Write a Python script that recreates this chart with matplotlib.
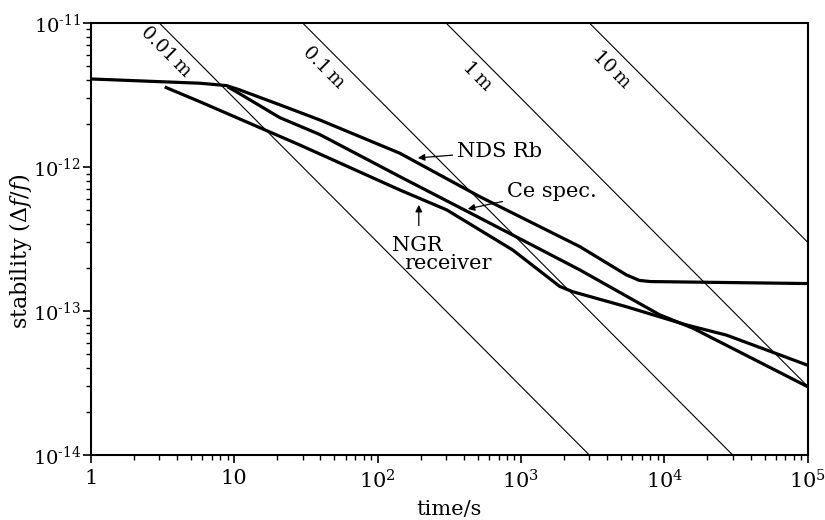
import matplotlib.pyplot as plt
import numpy as np
from matplotlib.ticker import NullFormatter

plt.rcParams['font.family'] = 'DejaVu Serif'
plt.rcParams['mathtext.fontset'] = 'dejavuserif'

# distance lines: stability = k * d / t
distances = [0.01, 0.1, 1, 10]
distance_labels = ['0.01\u2009m', '0.1\u2009m', '1\u2009m', '10\u2009m']
label_t = [3.33, 42.2, 500, 4300]
label_y = [6.29e-12, 4.87e-12, 4.28e-12, 4.72e-12]
k_per_metre = 3.0e-9

nds_t = [1, 5.8, 8.84, 10.9, 20.8, 39.5, 143, 516, 2570, 5440, 6700, 8000, 1e5]
nds_y = [4.08e-12, 3.81e-12, 3.67e-12, 3.43e-12, 2.70e-12, 2.12e-12, 1.245e-12,
         6.22e-13, 2.80e-13, 1.78e-13, 1.63e-13, 1.60e-13, 1.55e-13]

ce_t = [9.0, 10.5, 20.8, 39.5, 143, 516, 2570, 9290, 15800, 1e5]
ce_y = [3.6e-12, 3.3e-12, 2.2e-12, 1.68e-12, 8.57e-13, 4.43e-13, 1.93e-13,
        9.4e-14, 7.6e-14, 2.98e-14]

ngr_t = [3.28, 5.75, 28.7, 143, 304, 877, 1866, 2300, 5440, 14260, 27100, 1e5]
ngr_y = [3.59e-12, 2.84e-12, 1.42e-12, 6.92e-13, 5.03e-13, 2.65e-13, 1.48e-13,
         1.36e-13, 1.07e-13, 8.0e-14, 6.8e-14, 4.2e-14]

xticks = [1, 10, 1e2, 1e3, 1e4, 1e5]
xtick_labels = ['1', '10', '$10^2$', '$10^3$', '$10^4$', '$10^5$']
yticks = [1e-14, 1e-13, 1e-12, 1e-11]
ytick_labels = [r'$10^{\text{-}14}$', r'$10^{\text{-}13}$', r'$10^{\text{-}12}$',
                r'$10^{\text{-}11}$']

fig = plt.figure(figsize=(8.25, 5.2), dpi=100)
ax = fig.add_axes([0.110, 0.125, 0.869, 0.831])
ax.set_xscale('log')
ax.set_yscale('log')

t = np.array([1.0, 1e5])
for d, lab, lt, ly in zip(distances, distance_labels, label_t, label_y):
    ax.plot(t, k_per_metre * d / t, color='black', lw=0.8)
    ax.text(lt, ly, lab, rotation=-45, rotation_mode='anchor', ha='center',
            va='center', fontsize=13.5)

for tt, yy in [(nds_t, nds_y), (ce_t, ce_y), (ngr_t, ngr_y)]:
    ax.plot(tt, yy, color='black', lw=2.3, solid_joinstyle='round',
            solid_capstyle='butt')

arrow = dict(arrowstyle='-|>', color='black', lw=0.9, shrinkA=1, shrinkB=0,
             mutation_scale=10)
ax.annotate('NDS Rb', xy=(191, 1.155e-12), xytext=(357, 1.28e-12),
            ha='left', va='center', fontsize=15, arrowprops=arrow)
ax.annotate('Ce spec.', xy=(426, 5.11e-13), xytext=(796, 6.8e-13),
            ha='left', va='center', fontsize=15, arrowprops=arrow)
ax.annotate('', xy=(194, 5.45e-13), xytext=(194, 3.83e-13), arrowprops=arrow)
ax.text(190.7, 2.87e-13, 'NGR', ha='center', va='center', fontsize=15)
ax.text(309, 2.12e-13, 'receiver', ha='center', va='center', fontsize=15)

ax.set_xlim(1, 1e5)
ax.set_ylim(1e-14, 1e-11)
ax.set_xticks(xticks)
ax.set_xticklabels(xtick_labels)
ax.set_yticks(yticks)
ax.set_yticklabels(ytick_labels)
ax.xaxis.set_minor_formatter(NullFormatter())
ax.yaxis.set_minor_formatter(NullFormatter())
ax.tick_params(which='major', direction='out', length=6, width=1.2, labelsize=15,
               top=False, right=False, pad=4)
ax.tick_params(axis='y', which='major', labelsize=14, pad=1)
ax.tick_params(which='minor', direction='out', length=3.5, width=1.0,
               top=False, right=False)
for s in ax.spines.values():
    s.set_linewidth(1.5)

ax.set_xlabel('time/s', fontsize=15, labelpad=6)
ax.set_ylabel(r'stability ($\Delta f/f$)', fontsize=16)
ax.yaxis.set_label_coords(-0.098, 0.472)
ax.yaxis.label.set_va('center')

fig.savefig('out.png', dpi=100)
